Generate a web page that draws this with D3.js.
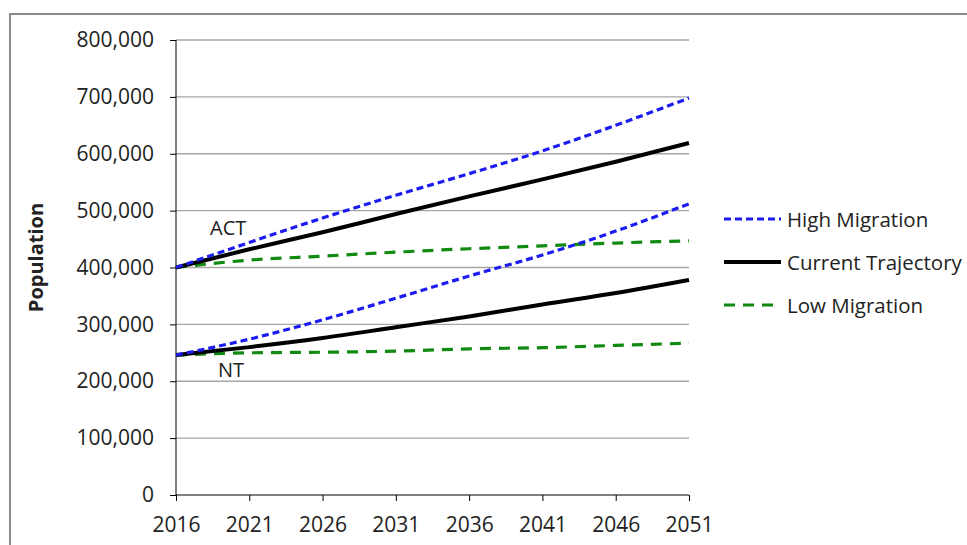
<!DOCTYPE html>
<html>
<head>
<meta charset="utf-8">
<script src="https://cdn.jsdelivr.net/npm/d3@7"></script>
<style>
  body { margin: 0; background: #fff; }
  svg text { font-family: "Open Sans", Lato, sans-serif; fill: #222; }
</style>
</head>
<body>
<svg id="chart"></svg>
<script>
// Years on the x axis
const years = [2016, 2021, 2026, 2031, 2036, 2041, 2046, 2051];

// Population projections
const actHigh = [400000, 444000, 487000, 527000, 565000, 605000, 650000, 698000];
const actCurrent = [400000, 432000, 462000, 494000, 525000, 555000, 586000, 619000];
const actLow = [400000, 413000, 420000, 427000, 433000, 438000, 443000, 447000];
const ntHigh = [246000, 274000, 308000, 346000, 385000, 422000, 464000, 512000];
const ntCurrent = [246000, 260000, 276000, 295000, 314000, 335000, 355000, 378000];
const ntLow = [246000, 250000, 251000, 253000, 257000, 259000, 263000, 267000];

const yTicks = [0, 100000, 200000, 300000, 400000, 500000, 600000, 700000, 800000];
const seriesNames = ["High Migration", "Current Trajectory", "Low Migration"];

const width = 967;
const height = 545;
const margin = { top: 40, right: 278, bottom: 50, left: 176 };

const svg = d3.select("#chart")
  .attr("width", width)
  .attr("height", height);

// outer border (runs off the right and bottom edge)
svg.append("rect")
  .attr("x", 10).attr("y", 14)
  .attr("width", 980).attr("height", 560)
  .attr("fill", "none")
  .attr("stroke", "#8a8a8a")
  .attr("stroke-width", 2);

const x = d3.scaleLinear()
  .domain([2016, 2051])
  .range([margin.left, width - margin.right]);

const y = d3.scaleLinear()
  .domain([0, 800000])
  .range([height - margin.bottom, margin.top]);

// gridlines
svg.append("g")
  .selectAll("line")
  .data(yTicks.slice(1))
  .enter()
  .append("line")
  .attr("x1", x(2016)).attr("x2", x(2051))
  .attr("y1", d => y(d)).attr("y2", d => y(d))
  .attr("stroke", "#a6a6a6")
  .attr("stroke-width", 1.3);

// axes
const yAxis = d3.axisLeft(y)
  .tickValues(yTicks)
  .tickSize(6)
  .tickPadding(16)
  .tickFormat(d3.format(","));

const xAxis = d3.axisBottom(x)
  .tickValues(years)
  .tickSize(6)
  .tickPadding(16)
  .tickFormat(d3.format("d"));

const gy = svg.append("g")
  .attr("transform", `translate(${margin.left},0)`)
  .call(yAxis);

const gx = svg.append("g")
  .attr("transform", `translate(0,${height - margin.bottom})`)
  .call(xAxis);

[gx, gy].forEach(g => {
  g.select(".domain").attr("stroke", "#000").attr("stroke-width", 1);
  g.selectAll(".tick line").attr("stroke", "#000");
  g.selectAll("text")
    .attr("font-size", 21)
    .attr("font-family", "'Open Sans', Lato, sans-serif")
    .attr("fill", "#222");
});
gy.select(".domain").attr("d", `M0,${y(800000)}V${y(0)}`);
gx.select(".domain").attr("d", `M${x(2016)},0H${x(2051)}`);

// y label
svg.append("text")
  .attr("transform", `translate(43,${(y(800000) + y(0)) / 2 - 10}) rotate(-90)`)
  .attr("text-anchor", "middle")
  .attr("font-size", 20)
  .attr("font-weight", "bold")
  .text("Population");

// series styles
const styles = {
  "High Migration": { color: "#1c1cf2", dash: "7,4", width: 3.2 },
  "Current Trajectory": { color: "#000", dash: null, width: 4 },
  "Low Migration": { color: "#118a11", dash: "11,8", width: 3.2 }
};

const series = [
  { name: "Low Migration", values: actLow },
  { name: "Low Migration", values: ntLow },
  { name: "Current Trajectory", values: actCurrent },
  { name: "Current Trajectory", values: ntCurrent },
  { name: "High Migration", values: actHigh },
  { name: "High Migration", values: ntHigh }
];

const line = d3.line()
  .x((d, i) => x(years[i]))
  .y(d => y(d))
  .curve(d3.curveMonotoneX);

svg.append("g")
  .selectAll("path")
  .data(series)
  .enter()
  .append("path")
  .attr("d", d => line(d.values))
  .attr("fill", "none")
  .attr("stroke", d => styles[d.name].color)
  .attr("stroke-width", d => styles[d.name].width)
  .attr("stroke-dasharray", d => styles[d.name].dash);

// region labels
svg.append("text")
  .attr("x", x(2016) + 34).attr("y", y(457000))
  .attr("font-size", 20)
  .text("ACT");

svg.append("text")
  .attr("x", x(2016) + 42).attr("y", y(207000))
  .attr("font-size", 20)
  .text("NT");

// legend
const legend = svg.append("g")
  .attr("transform", "translate(724,219)");

seriesNames.forEach((name, i) => {
  const s = styles[name];
  const row = legend.append("g").attr("transform", `translate(0,${i * 43})`);
  row.append("line")
    .attr("x1", 0).attr("x2", 57)
    .attr("y1", 0).attr("y2", 0)
    .attr("stroke", s.color)
    .attr("stroke-width", s.width)
    .attr("stroke-dasharray", s.dash);
  row.append("text")
    .attr("x", 63).attr("y", 8)
    .attr("font-size", 20.5)
    .text(name);
});
</script>
</body>
</html>
